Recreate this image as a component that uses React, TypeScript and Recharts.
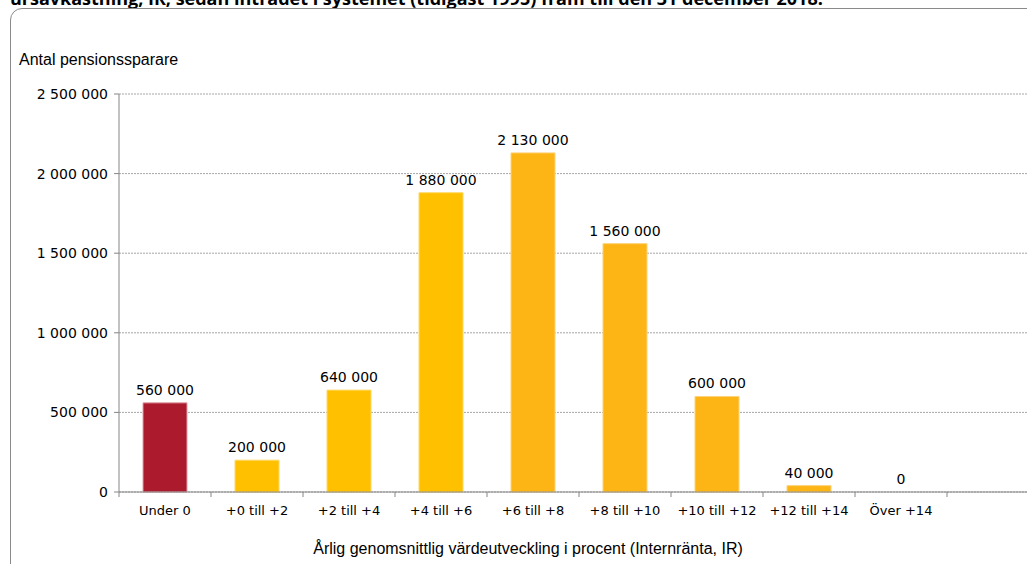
import React from 'react';
import { BarChart, Bar, XAxis, YAxis, CartesianGrid, Cell, LabelList } from 'recharts';

// Categories (last one is an empty slot, cut off at the right edge)
const categories = ['Under 0', '+0 till +2', '+2 till +4', '+4 till +6', '+6 till +8', '+8 till +10', '+10 till +12', '+12 till +14', 'Över +14', ''];
const savers = [560000, 200000, 640000, 1880000, 2130000, 1560000, 600000, 40000, 0, null];
const barColors = ['#AB1A2D', '#FFC000', '#FFC000', '#FFC000', '#FDB515', '#FDB515', '#FDB515', '#FDB515', '#FDB515', '#FDB515'];
const barStrokes = ['#E3A0A8', '#FFD966', '#FFD966', '#FFD966', '#FDD27A', '#FDD27A', '#FDD27A', '#FDD27A', '#FDD27A', '#FDD27A'];
const yTicks = [0, 500000, 1000000, 1500000, 2000000, 2500000];

const data = categories.map((name, i) => ({ name, value: savers[i] }));

const fmt = (v: any) => (v === null || v === undefined ? '' : String(v).replace(/\B(?=(\d{3})+(?!\d))/g, ' '));

const AXIS = '#868686';
const TICK_FONT = '"DejaVu Sans", Verdana, sans-serif';

const XTick = (props: any) => {
  const { x, y, payload } = props;
  const half = payload && payload.offset !== undefined ? payload.offset : 46;
  return (
    <g>
      <line x1={x - half} x2={x - half} y1={y} y2={y + 5} stroke={AXIS} strokeWidth={1} />
      <text x={x} y={y + 23} textAnchor="middle" fill="#000" fontSize={13} fontFamily={TICK_FONT}>
        {payload.value}
      </text>
    </g>
  );
};

const ValueLabel = (props: any) => {
  const { x, y, width, value } = props;
  if (value === null || value === undefined) return null;
  // zero bars get a 1px placeholder so the label still has an anchor
  const top = value === 0 ? Number(y) + 1 : Number(y);
  return (
    <text x={Number(x) + Number(width) / 2} y={top - 8} textAnchor="middle" fill="#000" fontSize={14} fontFamily={TICK_FONT}>
      {fmt(value)}
    </text>
  );
};

export default function App() {
  return (
    <div style={{ position: 'absolute', left: 0, top: 0, width: 1027, height: 564, overflow: 'hidden', background: '#fff' }}>
      {/* cut-off title line */}
      <div style={{ position: 'absolute', left: 10, top: -14, lineHeight: '24px', fontSize: 18, fontWeight: 700, fontFamily: '"Open Sans", sans-serif', whiteSpace: 'nowrap', color: '#000' }}>
        ursavkastning, IR, sedan inträdet i systemet (tidigast 1995) fram till den 31 december 2018.
      </div>
      {/* panel border */}
      <div style={{ position: 'absolute', left: 10, top: 8, width: 1100, height: 600, border: '1px solid #8a8a8a', borderRadius: 12, background: '#fff' }} />
      <div style={{ position: 'absolute', left: 19, top: 51, fontSize: 16, fontFamily: '"Liberation Sans", Arial, sans-serif', color: '#000', whiteSpace: 'nowrap' }}>
        Antal pensionssparare
      </div>
      <div style={{ position: 'absolute', left: 528, top: 540, transform: 'translateX(-50%)', fontSize: 16, fontFamily: '"Liberation Sans", Arial, sans-serif', color: '#000', whiteSpace: 'nowrap' }}>
        Årlig genomsnittlig värdeutveckling i procent (Internränta, IR)
      </div>
      <div style={{ position: 'absolute', left: 0, top: 0 }}>
        <BarChart width={1060} height={564} data={data} margin={{ top: 94, right: 21, bottom: 42, left: 19 }} barSize={44}>
          <CartesianGrid vertical={false} stroke="#a6a6a6" strokeDasharray="2 1" />
          <XAxis
            dataKey="name"
            height={30}
            axisLine={{ stroke: AXIS }}
            tickLine={false}
            tickSize={0}
            tickMargin={0}
            interval={0}
            tick={<XTick />}
          />
          <YAxis
            width={100}
            domain={[0, 2500000]}
            ticks={yTicks}
            tickFormatter={fmt}
            axisLine={{ stroke: AXIS }}
            tickLine={{ stroke: AXIS }}
            tickSize={5}
            tickMargin={6}
            tick={{ fill: '#000', fontSize: 14, fontFamily: TICK_FONT }}
          />
          <Bar dataKey="value" isAnimationActive={false} minPointSize={(v: any) => (v === 0 ? 1 : 0)}>
            {data.map((d, i) => (
              <Cell
                key={d.name + i}
                fill={d.value === 0 ? 'transparent' : barColors[i]}
                stroke={d.value === 0 ? 'none' : barStrokes[i]}
                strokeWidth={1}
              />
            ))}
            <LabelList dataKey="value" content={<ValueLabel />} />
          </Bar>
        </BarChart>
      </div>
    </div>
  );
}
